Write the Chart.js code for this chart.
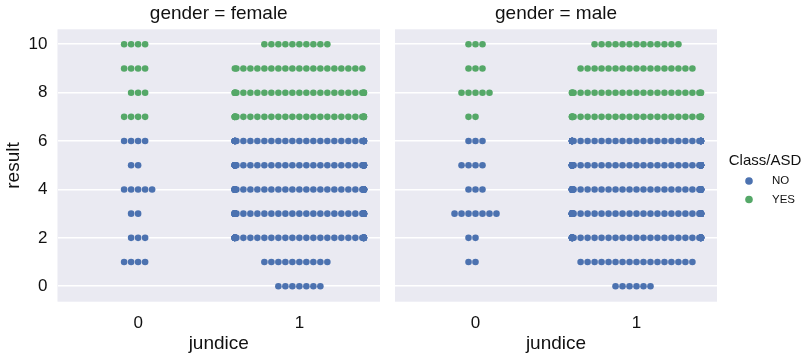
<!DOCTYPE html>
<html>
<head>
<meta charset="utf-8">
<script src="https://cdn.jsdelivr.net/npm/chart.js@4/dist/chart.umd.min.js"></script>
<style>
  html, body { margin: 0; padding: 0; background: #ffffff; }
  #wrap { position: relative; width: 807px; height: 356px; overflow: hidden; }
  canvas { position: absolute; top: 0; }
</style>
</head>
<body>
<div id="wrap">
  <canvas id="female" width="390" height="356" style="left:0px"></canvas>
  <canvas id="male" width="427" height="356" style="left:380px"></canvas>
</div>
<script>
// Tick labels and categories
const jundiceLabels = ['0', '1'];
const resultTicks = [0, 2, 4, 6, 8, 10];
const classLabels = ['NO', 'YES'];

// Number of people at each result score 0..10, split by jundice and Class/ASD
const femaleJ0No  = [0, 4, 3, 2, 5, 2, 4, 0, 0, 0, 0];
const femaleJ0Yes = [0, 0, 0, 0, 0, 0, 0, 4, 3, 4, 4];
const femaleJ1No  = [7, 10, 40, 46, 45, 38, 34, 0, 0, 0, 0];
const femaleJ1Yes = [0, 0, 0, 0, 0, 0, 0, 27, 25, 20, 10];

const maleJ0No  = [0, 2, 2, 7, 3, 4, 3, 0, 0, 0, 0];
const maleJ0Yes = [0, 0, 0, 0, 0, 0, 0, 2, 5, 3, 3];
const maleJ1No  = [6, 17, 45, 48, 52, 45, 40, 0, 0, 0, 0];
const maleJ1Yes = [0, 0, 0, 0, 0, 0, 0, 26, 24, 17, 13];

const BLUE = '#4C72B0';
const GREEN = '#55A868';
const FONT = '"Liberation Sans", Arial, Helvetica, sans-serif';
const TEXT = '#111111';

// Swarm layout: points sharing a score spread sideways from the category centre
// (centre, left, right, left, ...), clamped to the category's width.
const SWARM_STEP = 0.0434;
const SWARM_HALF = 0.4;
function swarmPoints(countsByCategory) {
  const pts = [];
  countsByCategory.forEach((counts, cat) => {
    counts.forEach((n, score) => {
      for (let i = 0; i < n; i++) {
        const k = Math.ceil(i / 2);
        let off = (i % 2 === 1 ? -1 : 1) * k * SWARM_STEP;
        off = Math.max(-SWARM_HALF, Math.min(SWARM_HALF, off));
        pts.push({ x: cat + off, y: score });
      }
    });
  });
  return pts;
}

const panelBackground = {
  id: 'panelBackground',
  beforeDraw(chart) {
    const { ctx, chartArea: a } = chart;
    ctx.save();
    ctx.fillStyle = '#EAEAF2';
    ctx.fillRect(a.left, a.top, a.right - a.left, a.bottom - a.top);
    ctx.restore();
  }
};

const classLegend = {
  id: 'classLegend',
  afterDraw(chart, args, opts) {
    if (!opts.show) return;
    const ctx = chart.ctx;
    const x0 = chart.chartArea.right;
    ctx.save();
    ctx.fillStyle = TEXT;
    ctx.textBaseline = 'middle';
    ctx.textAlign = 'center';
    ctx.font = '15px ' + FONT;
    ctx.fillText('Class/ASD', x0 + 48, 161);
    const colors = [BLUE, GREEN];
    classLabels.forEach((lab, i) => {
      const y = 181 + i * 18.5;
      ctx.beginPath();
      ctx.fillStyle = colors[i];
      ctx.arc(x0 + 32, y, 3.8, 0, Math.PI * 2);
      ctx.fill();
      ctx.fillStyle = TEXT;
      ctx.textAlign = 'left';
      ctx.font = '11.5px ' + FONT;
      ctx.fillText(lab, x0 + 55, y);
    });
    ctx.restore();
  }
};

function makePanel(canvasId, title, noCounts, yesCounts, isFirst) {
  const ctx = document.getElementById(canvasId);
  return new Chart(ctx, {
    type: 'scatter',
    data: {
      datasets: [
        { label: classLabels[0], data: swarmPoints(noCounts), backgroundColor: BLUE,
          pointRadius: 3.3, borderWidth: 0, xAxisID: 'x', yAxisID: 'y' },
        { label: classLabels[1], data: swarmPoints(yesCounts), backgroundColor: GREEN,
          pointRadius: 3.3, borderWidth: 0, xAxisID: 'x', yAxisID: 'y' }
      ]
    },
    options: {
      responsive: false,
      animation: false,
      events: [],
      layout: { padding: { left: 0, top: 0, bottom: 0, right: isFirst ? 10 : 90 } },
      plugins: {
        legend: { display: false },
        tooltip: { enabled: false },
        classLegend: { show: !isFirst }
      },
      scales: {
        x: {
          type: 'linear', position: 'bottom', min: -0.5, max: 1.5,
          afterBuildTicks: s => { s.ticks = jundiceLabels.map((_, i) => ({ value: i })); },
          afterFit: s => { s.height = 54.3; },
          grid: { display: false, drawTicks: false },
          border: { display: false },
          ticks: { callback: v => jundiceLabels[v], color: TEXT, padding: 11,
                   font: { family: FONT, size: 17 } },
          title: { display: true, text: 'jundice', color: TEXT, padding: { top: 0, bottom: 1 },
                   font: { family: FONT, size: 19 } }
        },
        xTop: {
          type: 'linear', axis: 'x', position: 'top', min: 0, max: 1,
          afterFit: s => { s.height = 29.3; },
          grid: { display: false, drawTicks: false },
          border: { display: false },
          ticks: { display: false },
          title: { display: true, text: title, color: TEXT, padding: { top: 2, bottom: 0 },
                   font: { family: FONT, size: 19 } }
        },
        y: {
          type: 'linear', position: 'left', min: -0.64, max: 10.62,
          afterBuildTicks: s => { s.ticks = resultTicks.map(v => ({ value: v })); },
          afterFit: s => { s.width = isFirst ? 57.5 : 15; },
          grid: { display: true, color: '#ffffff', lineWidth: 1.6, drawTicks: false },
          border: { display: false },
          ticks: { display: isFirst, color: TEXT, padding: 10, font: { family: FONT, size: 17 } },
          title: { display: isFirst, text: 'result', color: TEXT, padding: { top: 2, bottom: 0 },
                   font: { family: FONT, size: 19 } }
        }
      }
    },
    plugins: [panelBackground, classLegend]
  });
}

makePanel('female', 'gender = female', [femaleJ0No, femaleJ1No], [femaleJ0Yes, femaleJ1Yes], true);
makePanel('male', 'gender = male', [maleJ0No, maleJ1No], [maleJ0Yes, maleJ1Yes], false);
</script>
</body>
</html>
